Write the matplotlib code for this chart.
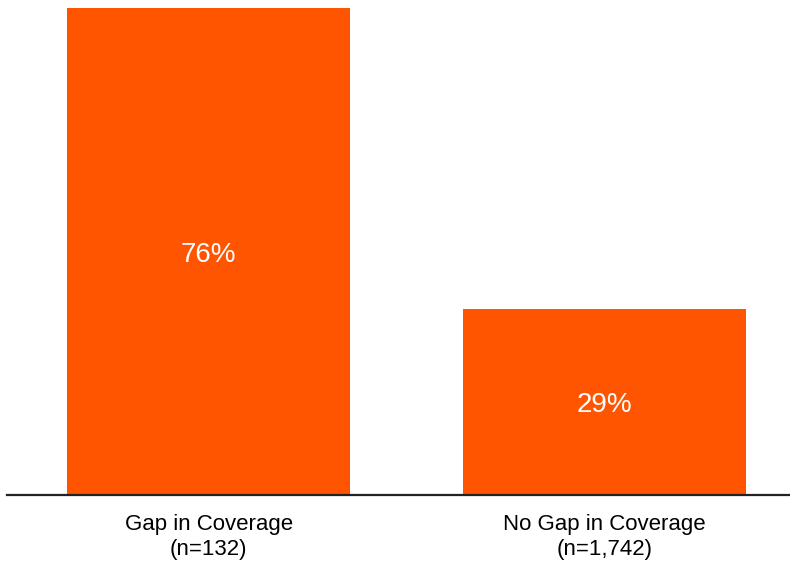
import matplotlib.pyplot as plt

categories = ["Gap in Coverage\n(n=132)", "No Gap in Coverage\n(n=1,742)"]
shares = [76, 29]

bar_color = "#FF5500"

plt.rcParams["font.family"] = ["Liberation Sans", "DejaVu Sans"]

fig = plt.figure(figsize=(7.9, 5.63), dpi=100)
# axes box: baseline at y=495 px, 76% bar top at y=8 px
ax = fig.add_axes([7 / 790, (563 - 495) / 563, 783 / 790, 487 / 563])

x = range(len(categories))
bars = ax.bar(x, shares, width=0.715, color=bar_color, clip_on=False)

for bar, val in zip(bars, shares):
    ax.text(bar.get_x() + bar.get_width() / 2, val / 2, f"{val}%",
            ha="center", va="center_baseline", color="white", fontsize=20)

ax.set_xlim(-0.509, 1.468)
ax.set_ylim(0, 76)
ax.set_xticks(list(x))
ax.set_xticklabels(categories, fontsize=16, linespacing=1.2)
ax.tick_params(axis="x", length=0, pad=14)
ax.set_yticks([])

for side in ["top", "right", "left"]:
    ax.spines[side].set_visible(False)
ax.spines["bottom"].set_linewidth(1.6)
ax.spines["bottom"].set_color("#222222")

fig.savefig("out.png", dpi=100)
